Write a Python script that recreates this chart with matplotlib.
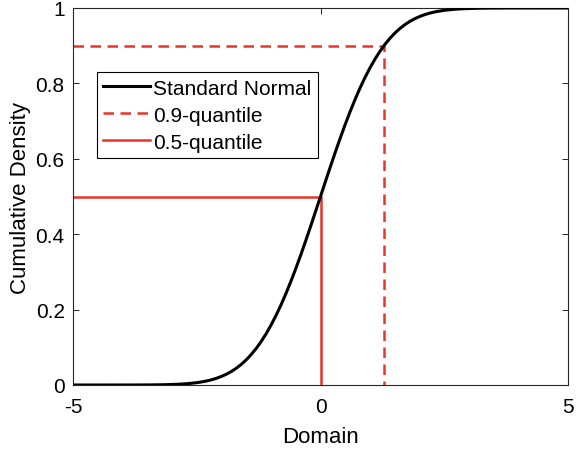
import matplotlib
matplotlib.use('Agg')
import matplotlib.pyplot as plt

plt.rcParams['font.family'] = ['Liberation Sans', 'DejaVu Sans']
plt.rcParams['axes.unicode_minus'] = False

# standard normal CDF sampled every 0.1 on [-5, 5]
domain = [round(-5 + 0.1 * i, 1) for i in range(101)]
cdf_right = [0.5, 0.5398, 0.5793, 0.6179, 0.6554, 0.6915, 0.7257, 0.7580, 0.7881, 0.8159,
             0.8413, 0.8643, 0.8849, 0.9032, 0.9192, 0.9332, 0.9452, 0.9554, 0.9641, 0.9713,
             0.9772, 0.9821, 0.9861, 0.9893, 0.9918, 0.9938, 0.9953, 0.9965, 0.9974, 0.9981,
             0.99865, 0.9990, 0.99931, 0.99952, 0.99966, 0.99977, 0.99984, 0.99989, 0.99993,
             0.99995, 0.99997, 0.99998, 0.99999, 0.99999, 1.0, 1.0, 1.0, 1.0, 1.0, 1.0, 1.0]
# left half mirrors the right half: F(-x) = 1 - F(x)
cdf = [round(1 - v, 5) for v in cdf_right[:0:-1]] + cdf_right

q90_x, q90_y = 1.2816, 0.9
q50_x, q50_y = 0.0, 0.5

xticks = [-5, 0, 5]
xtick_labels = ['-5', '0', '5']
yticks = [0, 0.2, 0.4, 0.6, 0.8, 1]
ytick_labels = ['0', '0.2', '0.4', '0.6', '0.8', '1']

red = '#e8352b'

fig = plt.figure(figsize=(5.77, 4.52), dpi=100)
ax = fig.add_axes([73 / 577, 66 / 452, 495 / 577, 377 / 452])

ax.plot(domain, cdf, color='black', lw=2.2, label='Standard Normal', zorder=3)
ax.plot([domain[0], q90_x, q90_x], [q90_y, q90_y, 0], color=red, lw=1.8,
        linestyle=(0, (4.2, 2.6)), label='0.9-quantile', zorder=2)
ax.plot([domain[0], q50_x, q50_x], [q50_y, q50_y, 0], color=red, lw=1.8,
        label='0.5-quantile', zorder=2)

ax.set_xlim(-5, 5)
ax.set_ylim(0, 1)
ax.set_xticks(xticks)
ax.set_xticklabels(xtick_labels)
ax.set_yticks(yticks)
ax.set_yticklabels(ytick_labels)
ax.tick_params(direction='in', length=4, width=0.7, labelsize=15, colors='#262626',
               top=True, right=True)
ax.tick_params(axis='x', pad=9)
ax.tick_params(axis='y', pad=6)
ax.tick_params(labelcolor='black')
for s in ax.spines.values():
    s.set_linewidth(0.8)
    s.set_color('#262626')

ax.set_xlabel('Domain', fontsize=16, labelpad=7)
ax.set_ylabel('Cumulative Density', fontsize=16, labelpad=3)

leg = ax.legend(loc='upper left', bbox_to_anchor=(0.048, 0.83), borderaxespad=0,
                fontsize=15, fancybox=False, framealpha=1, edgecolor='black',
                handlelength=2.25, handletextpad=0.15, labelspacing=0.38,
                borderpad=0.32)
leg.get_frame().set_linewidth(0.8)

fig.savefig('out.png', dpi=100)
